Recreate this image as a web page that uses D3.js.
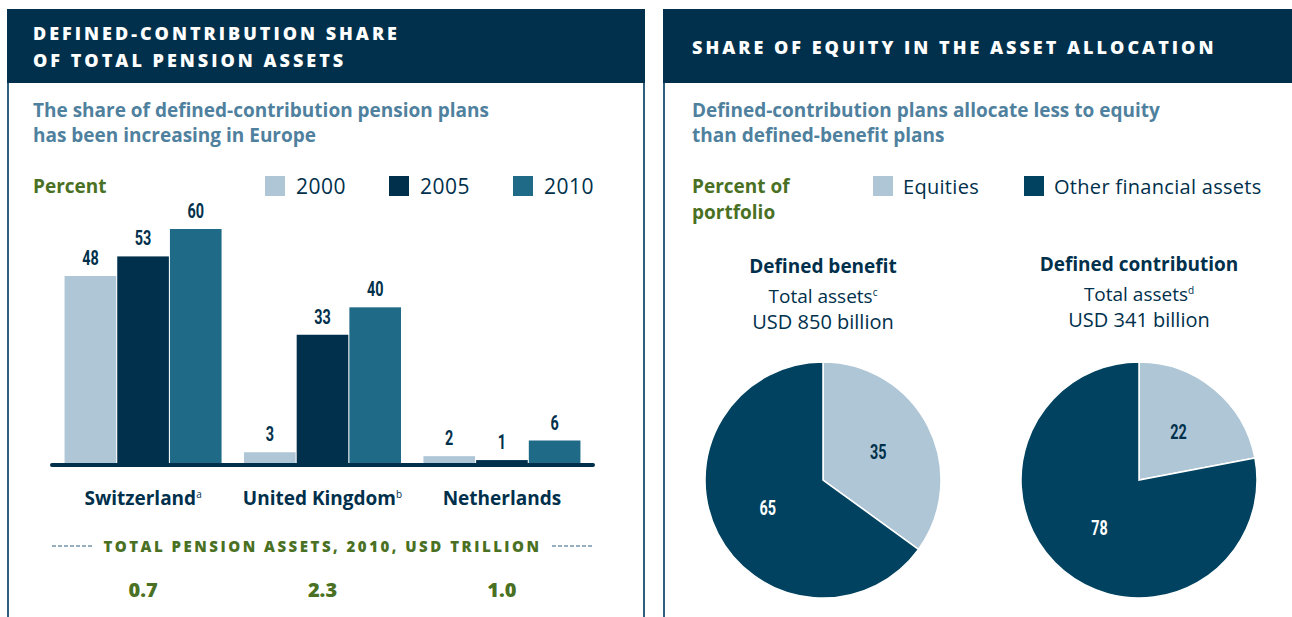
<!DOCTYPE html>
<html>
<head>
<meta charset="utf-8">
<script src="https://cdn.jsdelivr.net/npm/d3@7"></script>
<style>
  body { margin: 0; background: #fff; }
  text { font-family: "Open Sans", Lato, sans-serif; }
  .cond { font-family: Roboto, sans-serif; font-weight: bold; }
</style>
</head>
<body>
<div id="chart"></div>
<script>
// Data
var countries = ["Switzerland", "United Kingdom", "Netherlands"];
var countryNotes = ["a", "b", ""];
var years = ["2000", "2005", "2010"];
var share2000 = [48, 3, 2];
var share2005 = [53, 33, 1];
var share2010 = [60, 40, 6];
var totalAssets2010 = ["0.7", "2.3", "1.0"];

var assetClasses = ["Equities", "Other financial assets"];
var planTypes = ["Defined benefit", "Defined contribution"];
var planNotes = ["c", "d"];
var planTotals = ["USD 850 billion", "USD 341 billion"];
var benefitShares = [35, 65];
var contributionShares = [22, 78];

var navy = "#00304b",
	lightBlue = "#afc6d6",
	teal = "#1f6a87",
	pieDark = "#00425f",
	green = "#4a7123",
	steel = "#4f819e",
	border = "#2f5f7c";

var svg = d3.select("#chart")
	.append("svg")
	.attr("width", 1292)
	.attr("height", 617);

// Panels
svg.append("rect").attr("x", 7).attr("y", 9).attr("width", 638).attr("height", 74).attr("fill", navy);
svg.append("rect").attr("x", 663).attr("y", 9).attr("width", 640).attr("height", 74).attr("fill", navy);
[8, 644, 664].forEach(function(x) {
	svg.append("line")
		.attr("x1", x).attr("x2", x)
		.attr("y1", 83).attr("y2", 617)
		.attr("stroke", border)
		.attr("stroke-width", 2);
});

// Titles
function title(x, lines, y0) {
	lines.forEach(function(t, i) {
		svg.append("text")
			.attr("x", x)
			.attr("y", y0 + i * 27)
			.attr("fill", "#fff")
			.style("font-size", "18px")
			.style("font-weight", "800")
			.style("letter-spacing", "3px")
			.text(t);
	});
}
title(33, ["DEFINED-CONTRIBUTION SHARE", "OF TOTAL PENSION ASSETS"], 40);
title(692, ["SHARE OF EQUITY IN THE ASSET ALLOCATION"], 54);

function lines(x, arr, y0, size, color, dy) {
	arr.forEach(function(t, i) {
		svg.append("text")
			.attr("x", x)
			.attr("y", y0 + i * dy)
			.attr("fill", color)
			.style("font-size", size + "px")
			.style("font-weight", "bold")
			.text(t);
	});
}
lines(33, ["The share of defined-contribution pension plans", "has been increasing in Europe"], 117, 19, steel, 25);
lines(692, ["Defined-contribution plans allocate less to equity", "than defined-benefit plans"], 117, 19, steel, 25);
lines(33, ["Percent"], 193, 19, green, 26);
lines(692, ["Percent of", "portfolio"], 193, 19, green, 26);

// Bar chart
var series = [share2000, share2005, share2010];
var color = d3.scaleOrdinal().domain(years).range([lightBlue, navy, teal]);

var x0 = d3.scaleBand()
	.domain(countries)
	.range([52, 593])
	.paddingInner(0.125)
	.paddingOuter(0.07);
var x1 = d3.scaleBand()
	.domain(years)
	.range([0, x0.bandwidth()])
	.paddingInner(0.02);
var y = d3.scaleLinear()
	.domain([0, 60])
	.range([464, 229]);

var rows = [];
countries.forEach(function(c, i) {
	years.forEach(function(yr, j) {
		rows.push({country: c, year: yr, value: series[j][i]});
	});
});

svg.append("g")
	.selectAll("rect")
	.data(rows)
	.enter()
	.append("rect")
	.attr("x", function(d) { return x0(d.country) + x1(d.year); })
	.attr("y", function(d) { return y(d.value); })
	.attr("width", x1.bandwidth())
	.attr("height", function(d) { return y(0) - y(d.value); })
	.attr("fill", function(d) { return color(d.year); });

// condensed value labels (horizontal squeeze)
function condLabel(g, x, yy, txt, fill) {
	g.append("text")
		.attr("class", "cond")
		.attr("transform", "translate(" + x + "," + yy + ") scale(0.72,1)")
		.attr("text-anchor", "middle")
		.attr("fill", fill)
		.style("font-size", "20px")
		.text(txt);
}

var vl = svg.append("g");
rows.forEach(function(d) {
	condLabel(vl, x0(d.country) + x1(d.year) + x1.bandwidth() / 2, y(d.value) - 11, d.value, navy);
});

// baseline
svg.append("line")
	.attr("x1", x0.range()[0]).attr("x2", x0.range()[1])
	.attr("y1", y(0) + 1).attr("y2", y(0) + 1)
	.attr("stroke", navy)
	.attr("stroke-width", 4)
	.attr("stroke-linecap", "round");

// country labels
var cl = svg.append("g")
	.selectAll("text")
	.data(countries)
	.enter()
	.append("text")
	.attr("x", function(d) { return x0(d) + x0.bandwidth() / 2; })
	.attr("y", 505)
	.attr("text-anchor", "middle")
	.attr("fill", navy)
	.style("font-size", "19px")
	.style("font-weight", "bold");
cl.append("tspan").text(function(d) { return d; });
cl.append("tspan")
	.attr("dy", -7)
	.style("font-size", "10px")
	.style("font-weight", "normal")
	.text(function(d, i) { return countryNotes[i]; });

// total assets row
var mid = (x0.range()[0] + x0.range()[1]) / 2;
svg.append("text")
	.attr("x", mid)
	.attr("y", 552)
	.attr("text-anchor", "middle")
	.attr("fill", green)
	.style("font-size", "15px")
	.style("font-weight", "800")
	.style("letter-spacing", "2.5px")
	.text("TOTAL PENSION ASSETS, 2010, USD TRILLION");
[[52, 93], [552, 593]].forEach(function(s) {
	svg.append("line")
		.attr("x1", s[0]).attr("x2", s[1])
		.attr("y1", 546).attr("y2", 546)
		.attr("stroke", border)
		.attr("stroke-width", 1)
		.attr("stroke-dasharray", "4,2");
});
svg.append("g")
	.selectAll("text")
	.data(totalAssets2010)
	.enter()
	.append("text")
	.attr("x", function(d, i) { return x0(countries[i]) + x0.bandwidth() / 2; })
	.attr("y", 597)
	.attr("text-anchor", "middle")
	.attr("fill", green)
	.style("font-size", "20px")
	.style("font-weight", "800")
	.text(function(d) { return d; });

// bar legend
years.forEach(function(yr, i) {
	var lx = 265 + i * 124;
	svg.append("rect").attr("x", lx).attr("y", 176).attr("width", 20).attr("height", 20).attr("fill", color(yr));
	svg.append("text")
		.attr("x", lx + 31).attr("y", 194)
		.attr("fill", navy)
		.style("font-size", "21px")
		.style("letter-spacing", "0.5px")
		.text(yr);
});

// pie legend
var pieColor = d3.scaleOrdinal().domain(assetClasses).range([lightBlue, pieDark]);
[873, 1024].forEach(function(lx, i) {
	svg.append("rect").attr("x", lx).attr("y", 176).attr("width", 20).attr("height", 20).attr("fill", pieColor(assetClasses[i]));
	svg.append("text")
		.attr("x", lx + 30).attr("y", 194)
		.attr("fill", navy)
		.style("font-size", "20px")
		.style("letter-spacing", "0.3px")
		.text(assetClasses[i]);
});

// Pies
var pie = d3.pie().sort(null).value(function(d) { return d; });
var arc = d3.arc().innerRadius(0).outerRadius(118);
var labelArc = d3.arc().innerRadius(62).outerRadius(62);
var pieCenters = [823, 1139];

[benefitShares, contributionShares].forEach(function(shares, k) {
	var cx = pieCenters[k];
	var g = svg.append("g").attr("transform", "translate(" + cx + ",480)");
	var slices = pie(shares);
	g.selectAll("path")
		.data(slices)
		.enter()
		.append("path")
		.attr("d", arc)
		.attr("fill", function(d, i) { return pieColor(assetClasses[i]); })
		.attr("stroke", "#fff")
		.attr("stroke-width", 1.5);
	slices.forEach(function(d, i) {
		var c = labelArc.centroid(d);
		condLabel(g, c[0], c[1] + 7, d.data, i === 0 ? navy : "#fff");
	});

	var ty = k === 0 ? 273 : 271;
	svg.append("text")
		.attr("x", cx).attr("y", ty)
		.attr("text-anchor", "middle")
		.attr("fill", navy)
		.style("font-size", "19px")
		.style("font-weight", "bold")
		.text(planTypes[k]);
	var t = svg.append("text")
		.attr("x", cx).attr("y", ty + 30)
		.attr("text-anchor", "middle")
		.attr("fill", navy)
		.style("font-size", "19px");
	t.append("tspan").text("Total assets");
	t.append("tspan").attr("dy", -7).style("font-size", "10px").text(planNotes[k]);
	svg.append("text")
		.attr("x", cx).attr("y", ty + 56)
		.attr("text-anchor", "middle")
		.attr("fill", navy)
		.style("font-size", "20px")
		.text(planTotals[k]);
});
</script>
</body>
</html>
